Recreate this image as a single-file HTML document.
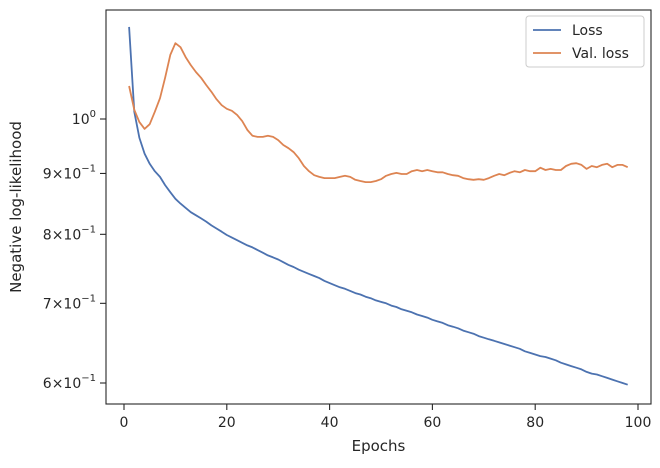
<!DOCTYPE html>
<html><head><meta charset="utf-8"><style>
body{margin:0;background:#fff;font-family:"Liberation Sans","DejaVu Sans",sans-serif;}
svg text{font-family:"DejaVu Sans","Liberation Sans",sans-serif;fill:#262626;}
</style></head><body>
<svg id="chart" width="660" height="463" viewBox="0 0 660 463" xmlns="http://www.w3.org/2000/svg">
<rect x="0" y="0" width="660" height="463" fill="#fff"/>
<g id="plot"></g>
<rect x="106" y="10" width="545" height="394" fill="none" stroke="#262626" stroke-width="1.1"/>
<text x="378.5" y="451" font-size="15" text-anchor="middle">Epochs</text>
<text transform="translate(21,207) rotate(-90)" font-size="15" text-anchor="middle">Negative log-likelihood</text>
<g>
<rect x="526" y="16" width="118" height="51" rx="3" fill="#fff" stroke="#ccc"/>
<line x1="533" y1="30" x2="561" y2="30" stroke="#4c72b0" stroke-width="1.8"/>
<text x="572" y="35" font-size="14">Loss</text>
<line x1="533" y1="53" x2="561" y2="53" stroke="#dd8452" stroke-width="1.8"/>
<text x="572" y="58" font-size="14">Val. loss</text>
</g>
</svg>
<script>
const epochs = Array.from({length:98},(_, i)=>i+1);
const loss = [1.195,1.014,.964,.935,.917,.904,.894,.880,.868,.857,.849,.842,.835,.830,.825,.820,.814,.809,.804,.799,.795,.791,.787,.783,.780,.776,.772,.768,.765,.762,.758,.754,.751,.747,.744,.741,.738,.735,.731,.728,.725,.722,.720,.717,.714,.712,.709,.707,.704,.702,.700,.697,.695,.692,.690,.688,.685,.683,.681,.678,.676,.674,.671,.669,.667,.664,.662,.660,.657,.655,.653,.651,.649,.647,.645,.643,.641,.638,.636,.634,.632,.631,.629,.627,.624,.622,.620,.618,.616,.613,.611,.610,.608,.606,.604,.602,.600,.598];
const valLoss = [1.066,1.018,.994,.981,.990,1.014,1.041,1.083,1.132,1.158,1.149,1.127,1.110,1.095,1.083,1.068,1.054,1.039,1.027,1.020,1.016,1.008,.996,.979,.968,.966,.966,.968,.966,.960,.951,.945,.938,.927,.913,.904,.897,.894,.892,.892,.892,.894,.896,.894,.889,.887,.885,.885,.887,.890,.896,.899,.901,.899,.899,.904,.906,.904,.906,.904,.902,.902,.899,.897,.896,.892,.890,.889,.890,.889,.892,.896,.899,.897,.901,.904,.902,.906,.904,.904,.910,.906,.908,.906,.906,.913,.917,.918,.915,.908,.913,.911,.915,.917,.911,.915,.915,.911];
const xTicks = [0,20,40,60,80,100];
const yTicks = [0.6,0.7,0.8,0.9,1.0];
const yTickLabels = ["6","7","8","9",""];

const X = v => 124 + v*5.14;
const Y = v => 119 - Math.log10(v)*1190;
const NS = "http://www.w3.org/2000/svg";
const g = document.getElementById('plot');
function mk(tag, attrs){const e=document.createElementNS(NS,tag);for(const k in attrs)e.setAttribute(k,attrs[k]);g.appendChild(e);return e;}

xTicks.forEach(t=>{
  const l=mk('line',{x1:X(t),x2:X(t),y1:404,y2:410,stroke:'#262626','stroke-width':1.1});
  
  
  const tx=mk('text',{x:X(t),y:427,'font-size':14,'text-anchor':'middle'});
  tx.textContent=t;
  
  
});
yTicks.forEach((t,i)=>{
  const l=mk('line',{x1:100,x2:106,y1:Y(t),y2:Y(t),stroke:'#262626','stroke-width':1.1});
  
  
  const tx=mk('text',{x:96,y:Y(t)+5,'font-size':14,'text-anchor':'end'});
  
  
  if(t===1.0){
    tx.innerHTML='10<tspan dy="-7" font-size="10">0</tspan>';
  } else {
    tx.innerHTML=yTickLabels[i]+'×10<tspan dy="-7" font-size="10">−1</tspan>';
  }
});
function line(data,color,name){
  const d=data.map((v,i)=>(i?'L':'M')+X(epochs[i]).toFixed(1)+','+Y(v).toFixed(1)).join('');
  const p=mk('path',{d:d,fill:'none',stroke:color,'stroke-width':1.8,'stroke-linejoin':'round'});
  
  
}
line(loss,'#4c72b0','loss-line');
line(valLoss,'#dd8452','val-loss-line');
</script>
</body></html>
